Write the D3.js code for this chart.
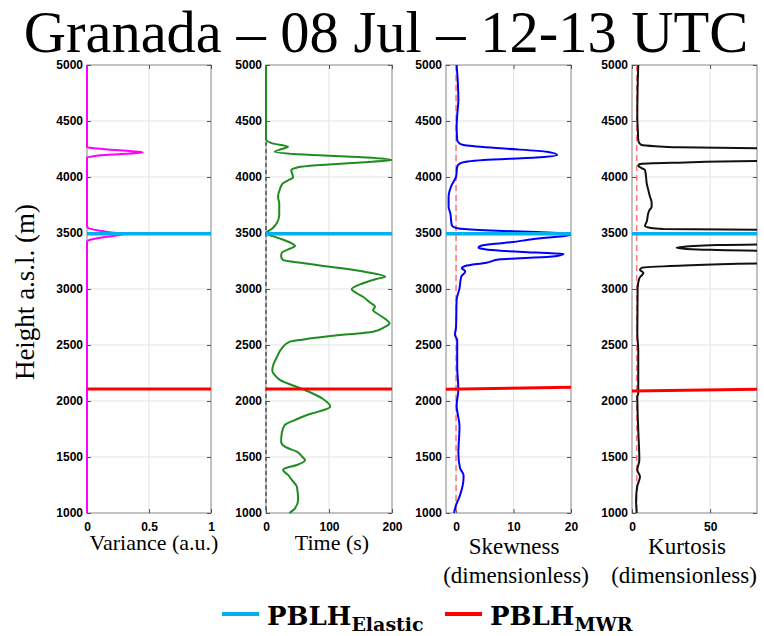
<!DOCTYPE html>
<html>
<head>
<meta charset="utf-8">
<script src="https://cdn.jsdelivr.net/npm/d3@7"></script>
<style>
body { margin: 0; background: #fff; }
.tick text { font-family: "Liberation Sans", Arial, sans-serif; font-weight: bold; font-size: 12px; fill: #000; }
</style>
</head>
<body>
<div class="chart"></div>
<script>
var svgWidth = 764;
var svgHeight = 636;

// tick labels
var heightTicks = [1000, 1500, 2000, 2500, 3000, 3500, 4000, 4500, 5000];
var varianceTicks = [0, 0.5, 1];
var timeTicks = [0, 100, 200];
var skewTicks = [0, 10, 20];
var kurtTicks = [0, 50];

// PBLH heights (m): [left edge, right edge]
var pblhElastic = [3493, 3493];
var mwrVariance = [2107, 2107];
var mwrTime = [2107, 2107];
var mwrSkew = [2105, 2122];
var mwrKurt = [2090, 2105];

// profiles: [height (m), value]
var varianceData = [
  [1000, 0], [3420, 0], [3437, 0.02], [3460, 0.12], [3480, 0.25], [3492, 0.3],
  [3505, 0.2], [3525, 0.08], [3545, 0.01], [3560, 0], [4175, 0], [4185, 0.05],
  [4200, 0.2], [4212, 0.38], [4220, 0.45], [4230, 0.36], [4245, 0.17], [4258, 0.04],
  [4268, 0], [5000, 0]
];

var timeData = [
  [1000, 37], [1042, 46], [1116, 51], [1235, 49], [1295, 41], [1340, 35], [1384, 27],
  [1399, 30], [1429, 49], [1473, 62], [1500, 58], [1547, 49], [1592, 30], [1637, 24],
  [1712, 25], [1786, 30], [1830, 46], [1875, 65], [1905, 83], [1949, 102], [2020, 90],
  [2098, 62], [2188, 22], [2230, 14], [2270, 10], [2330, 12], [2400, 18], [2470, 25],
  [2530, 38], [2550, 60], [2580, 102], [2619, 170], [2660, 188], [2693, 196], [2730, 190],
  [2768, 180], [2812, 170], [2842, 173], [2880, 165], [2931, 154], [2960, 145], [2997, 136],
  [3051, 154], [3090, 175], [3110, 189], [3150, 160], [3199, 101], [3230, 60], [3259, 27],
  [3290, 24], [3324, 25], [3360, 38], [3384, 46], [3410, 40], [3444, 25], [3470, 12],
  [3497, 0], [3540, 10], [3587, 17], [3661, 21], [3765, 21], [3824, 19], [3890, 22],
  [3944, 27], [3970, 35], [3997, 43], [4039, 41], [4060, 40], [4087, 51], [4105, 80],
  [4130, 150], [4152, 200], [4175, 160], [4200, 60], [4226, 14], [4250, 25], [4270, 35],
  [4300, 10], [4336, 0], [5000, 0]
];

var skewData = [
  [1000, -0.35], [1071, 0], [1146, 0.6], [1310, 1.3], [1340, 1.3], [1399, 0.7],
  [1533, 0.4], [1770, 0.6], [1964, 0.1], [2098, 0.4], [2306, 0.2], [2545, 0.2],
  [2589, -0.2], [2663, 0], [2902, 0.1], [3006, 0.6], [3110, 0.9], [3155, 1.6],
  [3170, 1.4], [3185, 1.0], [3205, 1.6], [3235, 5.3], [3265, 7.7], [3289, 16.3],
  [3300, 18], [3312, 18.7], [3325, 14], [3342, 7.7], [3355, 5], [3369, 3.9],
  [3384, 4.2], [3400, 6], [3423, 10.5], [3440, 12.5], [3460, 16], [3480, 19.8],
  [3495, 19.5], [3508, 14], [3525, 5], [3540, 0.5], [3556, -0.5], [3571, -0.75],
  [3676, -1.0], [3735, -1.3], [3824, -1.3], [3929, -0.75], [4003, 0], [4092, 0.2],
  [4122, 0.7], [4152, 4.8], [4176, 14.6], [4196, 17.6], [4226, 15.8], [4256, 7.7],
  [4286, 1.3], [4300, 0.6], [4330, 0.2], [4449, 0.1], [4550, 0.2], [4688, 0.4],
  [4850, 0.3], [5000, 0.1]
];

var kurtData = [
  [1000, 3.0], [1116, 2.6], [1241, 3.4], [1324, 5.1], [1384, 3.4], [1473, 4.7],
  [1741, 4.0], [2038, 3.4], [2068, 4.0], [2455, 4.0], [2604, 3.4], [3006, 3.6],
  [3096, 4.7], [3146, 7.3], [3170, 5.1], [3190, 6.2], [3208, 30], [3228, 85],
  [3240, 300], [3330, 300], [3342, 85], [3350, 50], [3358, 35], [3369, 28.6],
  [3380, 35], [3390, 50], [3399, 85], [3410, 300], [3515, 300], [3528, 85],
  [3536, 20], [3545, 12], [3562, 8.3], [3601, 9.4], [3676, 10.4], [3700, 11],
  [3735, 12.6], [3780, 12.5], [3824, 11.5], [3880, 10.5], [3944, 9.4], [4000, 9],
  [4063, 8.3], [4080, 6], [4101, 4.0], [4116, 5.1], [4128, 30], [4143, 85],
  [4155, 300], [4240, 300], [4255, 85], [4265, 30], [4275, 15], [4286, 6.2],
  [4300, 4.8], [4330, 4.0], [4400, 3.8], [4538, 3.4], [4800, 3.6], [5000, 4.0]
];

var svg = d3.select(".chart")
  .append("svg")
  .attr("width", svgWidth)
  .attr("height", svgHeight);

var plotTop = 65, plotBottom = 513;
var y = d3.scaleLinear().domain([1000, 5000]).range([plotBottom, plotTop]);

function drawPanel(id, left, right, xDomain, xTicks, data, color, mwr, refX, refColor, refDash) {
  var x = d3.scaleLinear().domain(xDomain).range([left, right]);
  var g = svg.append("g");

  // let lines at the left edge show fully, but cut what runs past the right edge
  g.append("clipPath").attr("id", "clip" + id)
    .append("rect")
    .attr("x", left - 2).attr("y", plotTop - 1)
    .attr("width", right - left + 2).attr("height", plotBottom - plotTop + 2);

  // grid
  g.selectAll(".hg").data(heightTicks.slice(1, -1)).enter().append("line")
    .attr("x1", left).attr("x2", right)
    .attr("y1", d => y(d)).attr("y2", d => y(d))
    .attr("stroke", "#e3e3e3");
  g.selectAll(".vg").data(xTicks.filter(d => d > xDomain[0] && d < xDomain[1])).enter().append("line")
    .attr("x1", d => x(d)).attr("x2", d => x(d))
    .attr("y1", plotTop).attr("y2", plotBottom)
    .attr("stroke", "#e3e3e3");

  g.append("rect")
    .attr("x", left).attr("y", plotTop)
    .attr("width", right - left).attr("height", plotBottom - plotTop)
    .attr("fill", "none")
    .attr("stroke", "#9a9a9a")
    .attr("stroke-width", 1.2);

  // axes, MATLAB style inward ticks
  var axL = g.append("g").attr("transform", `translate(${left},0)`)
    .call(d3.axisLeft(y).tickValues(heightTicks).tickSize(-4).tickPadding(4).tickFormat(d3.format("d")));
  var axR = g.append("g").attr("transform", `translate(${right},0)`)
    .call(d3.axisRight(y).tickValues(heightTicks).tickSize(-4).tickFormat(""));
  var axB = g.append("g").attr("transform", `translate(0,${plotBottom})`)
    .call(d3.axisBottom(x).tickValues(xTicks).tickSize(-4).tickPadding(9).tickFormat(d => String(d)));
  var axT = g.append("g").attr("transform", `translate(0,${plotTop})`)
    .call(d3.axisTop(x).tickValues(xTicks).tickSize(-4).tickFormat(""));
  [axL, axR, axB, axT].forEach(function(a) {
    a.select(".domain").remove();
    a.selectAll(".tick line").attr("stroke", "#555");
  });

  var plot = g.append("g").attr("clip-path", `url(#clip${id})`);

  if (refX !== null) {
    plot.append("line")
      .attr("x1", x(refX)).attr("x2", x(refX))
      .attr("y1", plotTop).attr("y2", plotBottom)
      .attr("stroke", refColor)
      .attr("stroke-width", 1.5)
      .attr("stroke-dasharray", refDash);
  }

  var line = d3.line()
    .x(d => x(d[1]))
    .y(d => y(d[0]))
    .curve(d3.curveMonotoneY);

  plot.append("path")
    .datum(data)
    .attr("d", line)
    .attr("fill", "none")
    .attr("stroke", color)
    .attr("stroke-width", 2);

  // PBLH lines
  plot.append("line")
    .attr("x1", left).attr("x2", right)
    .attr("y1", y(pblhElastic[0])).attr("y2", y(pblhElastic[1]))
    .attr("stroke", "#00b0f0").attr("stroke-width", 3.5);
  plot.append("line")
    .attr("x1", left).attr("x2", right)
    .attr("y1", y(mwr[0])).attr("y2", y(mwr[1]))
    .attr("stroke", "#ff0000").attr("stroke-width", 3);
}

drawPanel(1, 87, 211, [0, 1], varianceTicks, varianceData, "#ff00ff", mwrVariance, null);
drawPanel(2, 266, 392, [0, 200], timeTicks, timeData, "#1e8c1e", mwrTime, 0, "#555", "4,3");
drawPanel(3, 446, 571, [-1.75, 20], skewTicks, skewData, "#0000ff", mwrSkew, 0, "#ff7777", "6,4");
drawPanel(4, 632, 757, [0, 80], kurtTicks, kurtData, "#111", mwrKurt, 3, "#ff7777", "6,4");

var serif = "'Liberation Serif', 'Times New Roman', serif";

svg.append("text")
  .attr("x", 386).attr("y", 52)
  .attr("text-anchor", "middle")
  .style("font-family", serif)
  .style("font-size", "58.5px")
  .text("Granada – 08 Jul – 12-13 UTC");

svg.append("text")
  .attr("transform", "translate(34,292) rotate(-90)")
  .attr("text-anchor", "middle")
  .style("font-family", serif)
  .style("font-size", "27px")
  .text("Height a.s.l. (m)");

var xLabels = [
  ["Variance (a.u.)", 154, 550, 22],
  ["Time (s)", 332, 550, 22],
  ["Skewness", 514, 554, 23],
  ["(dimensionless)", 516, 583, 23],
  ["Kurtosis", 687, 554, 23],
  ["(dimensionless)", 684, 583, 23]
];
svg.selectAll(".xlab").data(xLabels).enter().append("text")
  .attr("x", d => d[1]).attr("y", d => d[2])
  .attr("text-anchor", "middle")
  .style("font-family", serif)
  .style("font-size", d => d[3] + "px")
  .text(d => d[0]);

// legend
var legend = [
  ["Elastic", "#00b0f0", 222],
  ["MWR", "#ff0000", 445]
];
var lg = svg.selectAll(".leg").data(legend).enter().append("g");
lg.append("line")
  .attr("x1", d => d[2]).attr("x2", d => d[2] + 37)
  .attr("y1", 614).attr("y2", 614)
  .attr("stroke", d => d[1]).attr("stroke-width", 4);
var lt = lg.append("text")
  .attr("x", d => d[2] + 45).attr("y", 625)
  .style("font-family", "'DejaVu Serif', serif")
  .style("font-weight", "bold")
  .style("font-size", "26px");
lt.append("tspan").text("PBLH");
lt.append("tspan").attr("dy", 6).style("font-size", "19px").text(d => d[0]);
</script>
</body>
</html>
